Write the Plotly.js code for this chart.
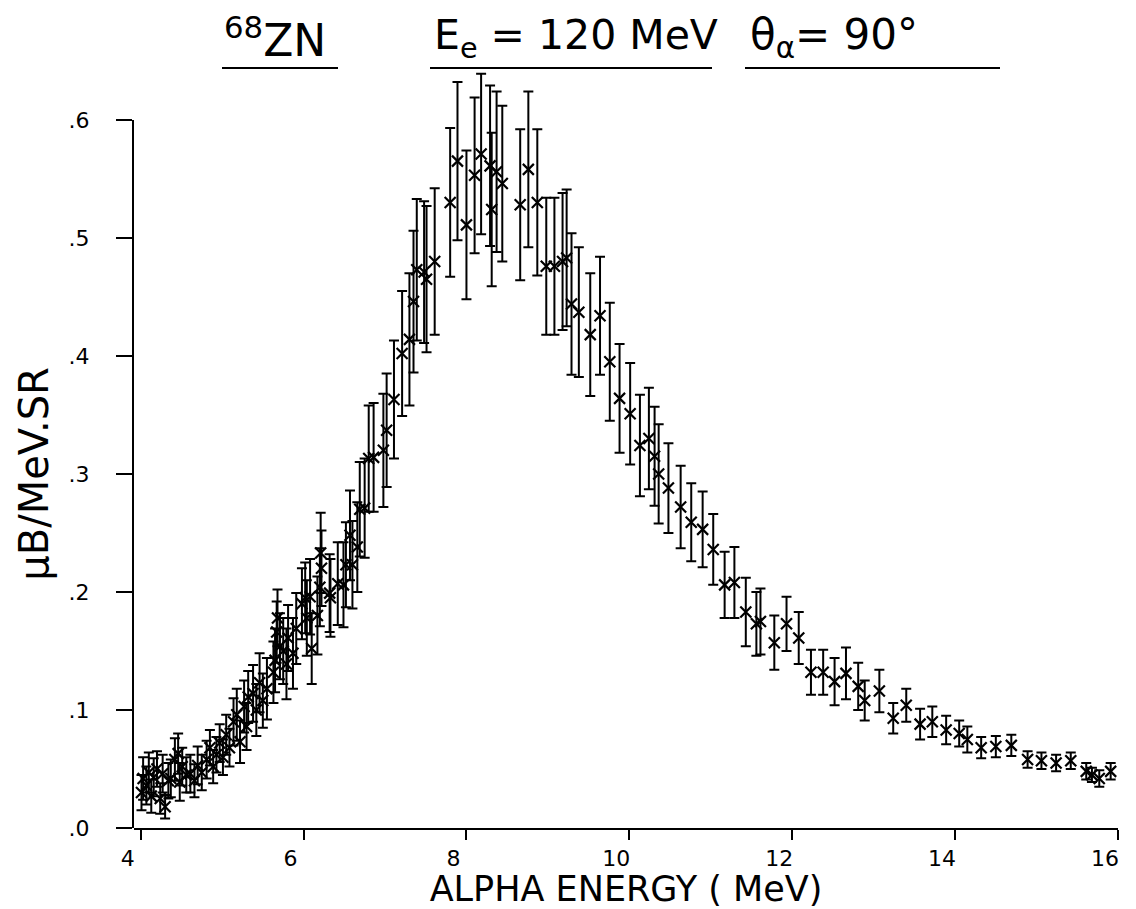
<!DOCTYPE html>
<html>
<head>
<meta charset="utf-8">
<script src="https://cdn.plot.ly/plotly-3.0.1.min.js"></script>
<style>html,body{margin:0;padding:0;background:#fff;}#chart{width:1136px;height:909px;}</style>
</head>
<body>
<div id="chart"></div>
<script>
// Alpha energy (MeV)
const energy = [
  4.01, 4.03, 4.07, 4.10, 4.13, 4.16, 4.20, 4.24, 4.27, 4.30,
  4.34, 4.37, 4.42, 4.46, 4.48, 4.51, 4.56, 4.61, 4.66, 4.70,
  4.75, 4.81, 4.85, 4.89, 4.93, 4.97, 5.01, 5.05, 5.09, 5.14,
  5.18, 5.22, 5.27, 5.30, 5.32, 5.38, 5.42, 5.46, 5.50, 5.55,
  5.63, 5.65, 5.67, 5.68, 5.71, 5.75, 5.79, 5.81, 5.87, 5.91,
  5.98, 6.02, 6.04, 6.08, 6.10, 6.17, 6.20, 6.21, 6.22, 6.32,
  6.33, 6.42, 6.49, 6.52, 6.57, 6.60, 6.66, 6.69, 6.75, 6.80,
  6.86, 6.98, 7.02, 7.11, 7.21, 7.30, 7.35, 7.39, 7.48, 7.51,
  7.61, 7.80, 7.89, 8.00, 8.10, 8.18, 8.29, 8.31, 8.37, 8.44,
  8.66, 8.76, 8.87, 8.98, 9.08, 9.18, 9.23, 9.29, 9.38, 9.52,
  9.64, 9.76, 9.88, 10.01, 10.13, 10.24, 10.31, 10.36, 10.48, 10.63,
  10.76, 10.90, 11.03, 11.17, 11.29, 11.43, 11.56, 11.61, 11.78, 11.93,
  12.08, 12.23, 12.38, 12.52, 12.66, 12.81, 12.89, 13.07, 13.24, 13.40,
  13.57, 13.72, 13.89, 14.05, 14.15, 14.32, 14.50, 14.69, 14.89, 15.06,
  15.24, 15.42, 15.61, 15.68, 15.77, 15.91
];
// Cross section (uB/MeV.SR)
const crossSection = [
  0.030, 0.042, 0.036, 0.047, 0.027, 0.043, 0.050, 0.025, 0.046, 0.018,
  0.040, 0.042, 0.058, 0.063, 0.039, 0.052, 0.045, 0.046, 0.040, 0.053,
  0.047, 0.058, 0.068, 0.052, 0.062, 0.072, 0.060, 0.079, 0.068, 0.090,
  0.096, 0.073, 0.103, 0.086, 0.111, 0.114, 0.100, 0.123, 0.108, 0.118,
  0.132, 0.142, 0.166, 0.178, 0.154, 0.150, 0.139, 0.161, 0.148, 0.169,
  0.190, 0.195, 0.178, 0.196, 0.152, 0.180, 0.204, 0.233, 0.220, 0.199,
  0.195, 0.207, 0.206, 0.223, 0.248, 0.223, 0.238, 0.270, 0.271, 0.313,
  0.314, 0.320, 0.337, 0.363, 0.402, 0.414, 0.446, 0.473, 0.471, 0.465,
  0.480, 0.530, 0.565, 0.511, 0.553, 0.571, 0.561, 0.524, 0.556, 0.546,
  0.528, 0.558, 0.530, 0.476, 0.476, 0.480, 0.483, 0.444, 0.437, 0.418,
  0.434, 0.395, 0.364, 0.351, 0.324, 0.330, 0.315, 0.300, 0.288, 0.272,
  0.259, 0.253, 0.236, 0.206, 0.208, 0.183, 0.173, 0.175, 0.157, 0.173,
  0.161, 0.132, 0.132, 0.124, 0.131, 0.120, 0.108, 0.116, 0.093, 0.104,
  0.088, 0.090, 0.083, 0.080, 0.075, 0.068, 0.069, 0.070, 0.058, 0.057,
  0.055, 0.057, 0.048, 0.045, 0.042, 0.048
];
// Statistical error (half-length of error bar)
const errorValues = [
  0.015, 0.018, 0.016, 0.017, 0.014, 0.016, 0.015, 0.013, 0.016, 0.010,
  0.015, 0.016, 0.018, 0.017, 0.016, 0.016, 0.015, 0.016, 0.014, 0.016,
  0.015, 0.016, 0.015, 0.014, 0.015, 0.016, 0.015, 0.017, 0.016, 0.020,
  0.022, 0.018, 0.022, 0.020, 0.022, 0.024, 0.022, 0.025, 0.023, 0.026,
  0.026, 0.027, 0.026, 0.024, 0.028, 0.028, 0.030, 0.028, 0.030, 0.030,
  0.030, 0.030, 0.032, 0.032, 0.030, 0.033, 0.033, 0.034, 0.032, 0.033,
  0.033, 0.035, 0.036, 0.036, 0.038, 0.037, 0.038, 0.040, 0.042, 0.045,
  0.046, 0.048, 0.048, 0.050, 0.053, 0.056, 0.060, 0.060, 0.060, 0.062,
  0.062, 0.063, 0.067, 0.063, 0.066, 0.068, 0.068, 0.065, 0.068, 0.066,
  0.064, 0.066, 0.062, 0.058, 0.058, 0.058, 0.058, 0.060, 0.055, 0.052,
  0.050, 0.050, 0.046, 0.043, 0.043, 0.043, 0.042, 0.042, 0.038, 0.035,
  0.033, 0.032, 0.030, 0.028, 0.030, 0.029, 0.027, 0.028, 0.023, 0.023,
  0.022, 0.019, 0.019, 0.020, 0.022, 0.020, 0.017, 0.018, 0.013, 0.014,
  0.013, 0.013, 0.012, 0.011, 0.011, 0.009, 0.009, 0.009, 0.007, 0.007,
  0.007, 0.007, 0.007, 0.006, 0.007, 0.007
];
const xTickVals = [4, 6, 8, 10, 12, 14, 16];
const xTickText = ['4', '6', '8', '10', '12', '14', '16'];
const yTickVals = [0, 0.1, 0.2, 0.3, 0.4, 0.5, 0.6];
const yTickText = ['.0', '.1', '.2', '.3', '.4', '.5', '.6'];
const titleParts = ['<sup>68</sup>ZN', 'E<sub>e</sub> = 120 MeV', 'θ<sub>α</sub>= 90°'];

const font = 'DejaVu Sans, Liberation Sans, sans-serif';

// pixel helpers for decorations (plot area: left 134, right 1118, top 49, bottom 828)
const L = 134, R = 1118, T = 49, B = 828;
const px = v => (v - L) / (R - L);
const py = v => (B - v) / (B - T);

const dataTrace = {
  type: 'scatter',
  mode: 'markers',
  x: energy,
  y: crossSection,
  xaxis: 'x', yaxis: 'y',
  cliponaxis: false,
  marker: {symbol: 'x-thin', size: 11, color: 'black', line: {width: 2.2, color: 'black'}},
  error_y: {type: 'data', array: errorValues, visible: true, color: 'black', thickness: 2, width: 5},
  showlegend: false,
  hoverinfo: 'x+y'
};
// carrier for the labelled axis (same scale as the data axis, domain ends at .6)
const axisTrace = {
  type: 'scatter', mode: 'markers', x: [], y: [],
  xaxis: 'x', yaxis: 'y2', showlegend: false, hoverinfo: 'skip'
};

const titleX = [222, 432, 748];
const titleSize = [44, 41, 42];
const underlines = [[222, 338], [430, 712], [745, 1000]];

const layout = {
  width: 1136, height: 909,
  paper_bgcolor: '#ffffff', plot_bgcolor: 'rgba(0,0,0,0)',
  margin: {l: L, r: 1136 - R, t: T, b: 909 - B},
  font: {family: font, color: '#000'},
  xaxis: {
    range: [3.918, 16], showgrid: false, zeroline: false, anchor: 'y',
    showline: true, linecolor: '#000', linewidth: 2,
    ticks: 'outside', ticklen: 10, tickwidth: 2, tickcolor: '#000',
    tickvals: xTickVals, ticktext: xTickText,
    tickfont: {family: font, size: 22, color: '#000'},
    ticklabelshift: -13, ticklabelstandoff: 0,
    title: {text: 'ALPHA ENERGY ( MeV)', font: {family: font, size: 35, color: '#000'}, standoff: 2}
  },
  yaxis: {
    range: [0, 0.66], domain: [0, 1], anchor: 'x',
    showgrid: false, zeroline: false, showline: false,
    ticks: '', showticklabels: false
  },
  yaxis2: {
    range: [0, 0.6], domain: [0, 0.6 / 0.66], anchor: 'x', side: 'left',
    showgrid: false, zeroline: false,
    showline: true, linecolor: '#000', linewidth: 2,
    ticks: 'outside', ticklen: 16, tickwidth: 2, tickcolor: '#000',
    tickvals: yTickVals, ticktext: yTickText,
    tickfont: {family: font, size: 22, color: '#000'},
    ticklabelstandoff: 22,
    title: {text: 'μB/MeV.SR', font: {family: font, size: 40, color: '#000'}, standoff: 8}
  },
  annotations: titleParts.map((t, i) => ({
    text: t, xref: 'paper', yref: 'paper', x: px(titleX[i]), y: py(38),
    xanchor: 'left', yanchor: 'middle', showarrow: false,
    font: {family: font, size: titleSize[i], color: '#000'}
  })),
  shapes: underlines.map(u => ({
    type: 'line', xref: 'paper', yref: 'paper',
    x0: px(u[0]), x1: px(u[1]), y0: py(68), y1: py(68),
    line: {color: '#000', width: 2}
  }))
};

Plotly.newPlot('chart', [dataTrace, axisTrace], layout, {displayModeBar: false, staticPlot: true});
</script>
</body>
</html>
